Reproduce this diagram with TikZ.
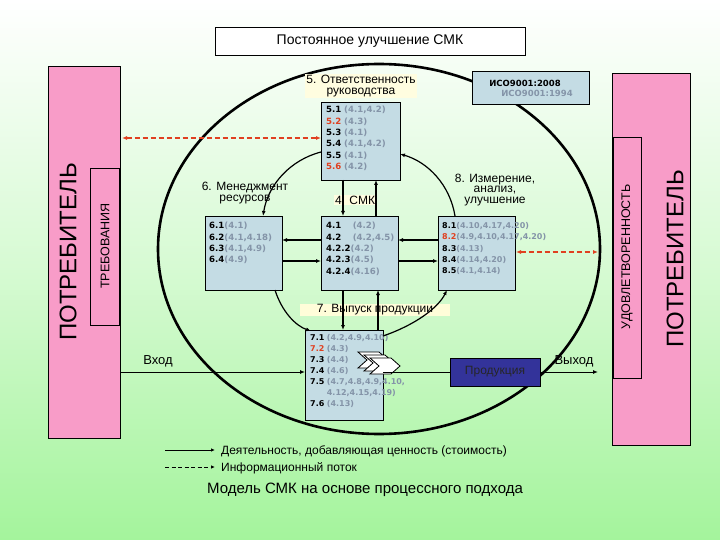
\documentclass[tikz,border=0pt]{standalone}
\usepackage{fontspec}
\setmainfont{Liberation Sans}
\newfontfamily\vfont{DejaVu Sans}
\usetikzlibrary{arrows.meta}
\definecolor{bx}{HTML}{C4DCE4}
\definecolor{pk}{HTML}{F89CC8}
\definecolor{rf}{HTML}{8494A8}
\definecolor{rd}{HTML}{E04020}
\definecolor{gr}{HTML}{A4F49C}
\definecolor{pr}{HTML}{33339A}
\newcommand{\n}[1]{\textbf{#1}}
\newcommand{\rr}[1]{{\color{rf}\textbf{#1}}}
\newcommand{\rn}[1]{{\color{rd}\textbf{#1}}}
\begin{document}
\begin{tikzpicture}[x=1pt,y=-1pt,
  btxt/.style={font=\vfont\fontsize{8.6}{11.4}\selectfont,align=left,anchor=north west,inner sep=0pt},
  lbl/.style={font=\fontsize{12}{12.5}\selectfont,align=center,inner sep=1pt},
  ar/.style={-{Latex[length=5pt,width=4pt]},line width=1.4pt},
  arc/.style={-{Latex[length=5pt,width=4pt]},line width=1.2pt},
  dsh/.style={{Latex[length=5pt,width=4pt]}-{Latex[length=5pt,width=4pt]},rd,dashed,dash pattern=on 5pt off 3pt,line width=1.4pt}]
\useasboundingbox (0,0) rectangle (720,540);
\shade[top color=white,bottom color=gr,middle color=gr!45] (0,0) rectangle (720,540);
% title
\node[draw,fill=white,minimum width=310pt,minimum height=28pt,font=\fontsize{14}{15}\selectfont] (title) at (370,41) {Постоянное улучшение СМК};
% left customer
\draw[fill=pk] (48,66) rectangle (120,438);
\node[rotate=90,font=\fontsize{24}{25}\selectfont] (lc) at (68,252) {ПОТРЕБИТЕЛЬ};
\draw[fill=pk] (90,168) rectangle (119,325);
\node[rotate=90,font=\fontsize{12.5}{13}\selectfont] (req) at (105,246) {ТРЕБОВАНИЯ};
% right customer
\draw[fill=pk] (612,73) rectangle (690,445);
\node[rotate=90,font=\fontsize{24}{25}\selectfont] (rc) at (675,259) {ПОТРЕБИТЕЛЬ};
\draw[fill=pk] (613,137) rectangle (641,378);
\node[rotate=90,font=\fontsize{12.5}{13}\selectfont] (sat) at (627,257) {УДОВЛЕТВОРЕННОСТЬ};
% big ellipse
\draw[line width=2.6pt] (379,249) ellipse (221pt and 185pt);
% boxes
\draw[fill=bx] (321,102) rectangle (400,180);
\node[btxt] (t5) at (326,106) {\n{5.1} \rr{(4.1,4.2)}\\\rn{5.2} \rr{(4.3)}\\\n{5.3} \rr{(4.1)}\\\n{5.4} \rr{(4.1,4.2)}\\\n{5.5} \rr{(4.1)}\\\rn{5.6} \rr{(4.2)}};
\draw[fill=bx] (205,216) rectangle (282,290);
\node[btxt] (t6) at (209,222) {\n{6.1}\rr{(4.1)}\\\n{6.2}\rr{(4.1,4.18)}\\\n{6.3}\rr{(4.1,4.9)}\\\n{6.4}\rr{(4.9)}};
\draw[fill=bx] (321,216) rectangle (398,290);
\node[btxt] (t4) at (326,222) {\n{4.1}\quad\ \rr{(4.2)}\\\n{4.2}\quad\ \rr{(4.2,4.5)}\\\n{4.2.2}\rr{(4.2)}\\\n{4.2.3}\rr{(4.5)}\\\n{4.2.4}\rr{(4.16)}};
\draw[fill=bx] (438,216) rectangle (515,290);
\node[btxt,font=\vfont\fontsize{8}{11.4}\selectfont] (t8) at (442,222) {\n{8.1}\rr{(4.10,4.17,4.20)}\\\rn{8.2}\rr{(4.9,4.10,4.17,4.20)}\\\n{8.3}\rr{(4.13)}\\\n{8.4}\rr{(4.14,4.20)}\\\n{8.5}\rr{(4.1,4.14)}};
\draw[fill=bx] (305,330) rectangle (383,420);
\node[btxt,font=\vfont\fontsize{8}{11}\selectfont] (t7) at (310,334) {\n{7.1} \rr{(4.2,4.9,4.10)}\\\rn{7.2} \rr{(4.3)}\\\n{7.3} \rr{(4.4)}\\\n{7.4} \rr{(4.6)}\\\n{7.5} \rr{(4.7,4.8,4.9,4.10,}\\\phantom{\n{7.5}} \rr{4.12,4.15,4.19)}\\\n{7.6} \rr{(4.13)}};
% chevrons
\foreach \d in {0,6,12}{\draw[fill=white,line width=0.8pt] (358+\d,352+\d*0.5) -- (379+\d,352+\d*0.5) -- (388+\d,360+\d*0.5) -- (379+\d,368+\d*0.5) -- (358+\d,368+\d*0.5) -- (367+\d,360+\d*0.5) -- cycle;}
% labels
\node[lbl,fill=yellow!12] (l5) at (361,86) {5. Ответственность\\[-2pt]руководства};
\node[lbl] (l6) at (245,193) {6. Менеджмент\\[-2pt]ресурсов};
\node[lbl,fill=yellow!12] (l4) at (355,200) {4. СМК};
\node[lbl] (l8) at (495,190) {8. Измерение,\\[-2pt]анализ,\\[-2pt]улучшение};
\node[lbl,fill=yellow!15,minimum width=150pt] (l7) at (375,310) {7. Выпуск продукции};
% ISO
\node[draw,fill=bx,minimum width=117pt,minimum height=33pt,font=\vfont\fontsize{8.5}{10}\selectfont,align=left] (iso) at (531,88) {\textbf{ИСО9001:2008}\\\hspace{12pt}\rr{ИСО9001:1994}};
% product
\node[draw,fill=pr,minimum width=90pt,minimum height=28pt,font=\fontsize{12}{13}\selectfont,text=black!85] (prod) at (495,372) {Продукция};
% inner arrows
\draw[ar] (343,180) -- (343,216);
\draw[ar] (376,216) -- (376,180);
\draw[ar] (321,240) -- (282,240);
\draw[ar] (282,261) -- (321,261);
\draw[ar] (438,240) -- (398,240);
\draw[ar] (398,261) -- (438,261);
\draw[ar] (343,290) -- (343,330);
\draw[ar] (378,330) -- (378,290);
% inner circle arcs
\draw[arc] (321,152) .. controls (290,160) and (268,185) .. (263,216);
\draw[arc] (275,290) .. controls (282,312) and (296,326) .. (311,331);
\draw[arc] (383,336) .. controls (415,325) and (438,308) .. (447,290);
\draw[arc] (455,216) .. controls (450,185) and (428,162) .. (400,154);
% flow
\coordinate (in) at (120,372);
\coordinate (out) at (598,372);
\draw[ar,line width=1pt] (in) -- (305,372);
\draw[line width=1pt] (383,372) -- (prod.west);
\draw[ar,line width=1pt] (prod.east) -- (out);
\node[lbl,font=\fontsize{13}{14}\selectfont] (vx) at (158,361) {Вход};
\node[lbl,font=\fontsize{13}{14}\selectfont] (vy) at (574,361) {Выход};
% dashed info flows
\coordinate (dl) at (122,138);
\coordinate (dr) at (598,252);
\draw[dsh] (dl) -- (321,138);
\draw[dsh] (516,252) -- (dr);
% legend
\coordinate (la) at (165,450); \coordinate (lb) at (215,450);
\coordinate (lc1) at (165,467); \coordinate (ld) at (215,467);
\draw[-{Latex[length=4pt,width=3.5pt]},line width=1pt] (la) -- (lb);
\draw[-{Latex[length=4pt,width=3.5pt]},line width=1pt,dashed,dash pattern=on 4pt off 2.5pt] (lc1) -- (ld);
\node[anchor=west,font=\fontsize{12}{13}\selectfont,inner sep=0pt] (lt1) at (221,451) {Деятельность, добавляющая ценность (стоимость)};
\node[anchor=west,font=\fontsize{12}{13}\selectfont,inner sep=0pt] (lt2) at (221,468) {Информационный поток};
\node[font=\fontsize{15}{16}\selectfont] (cap) at (365,490) {Модель СМК на основе процессного подхода};
\end{tikzpicture}
\end{document}
